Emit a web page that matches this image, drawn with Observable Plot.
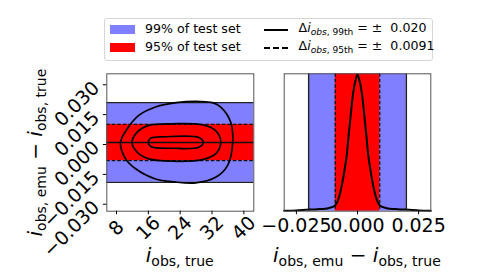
<!DOCTYPE html>
<html>
<head>
<meta charset="utf-8">
<script src="https://cdn.jsdelivr.net/npm/d3@7"></script>
<script src="https://cdn.jsdelivr.net/npm/@observablehq/plot@0.6"></script>
<style>
  html, body { margin: 0; padding: 0; background: #fff; }
  #root { position: relative; width: 488px; height: 275px; overflow: hidden; font-family: "DejaVu Sans", sans-serif; color: #000; }
  .panel { position: absolute; top: 0; }
  .lab { position: absolute; font-size: 20px; white-space: nowrap; line-height: 1; }
  .lab sub { font-size: 70%; vertical-align: -0.3em; }
  #legend { position: absolute; left: 104px; top: 17.5px; width: 327px; height: 41.5px; border: 1px solid #d6d6d6; border-radius: 3px; background: #fff; font-size: 12.6px; }
  #legend .item { position: absolute; white-space: nowrap; line-height: 1; }
  #legend sub { font-size: 72%; vertical-align: -0.3em; }
  #legend .patch { position: absolute; width: 25px; height: 9.5px; }
</style>
</head>
<body>
<div id="root"></div>
<script>
// ---------- data ----------
const delta99 = 0.020;
const delta95 = 0.0091;
const bandLabels = ["99% of test set", "95% of test set"];
const bandColors = ["#7f7fff", "#ff0000"];
const bandHalfWidths = [delta99, delta95];

const xTicksLeft = [8, 16, 24, 32, 40];
const yTicksLeft = [-0.030, -0.015, 0.000, 0.015, 0.030];
const xTicksRight = [-0.025, 0.000, 0.025];
const xDomainLeft = [5.56, 42.5];
const yDomainLeft = [-0.0345, 0.0345];
const xDomainRight = [-0.030, 0.030];

// contour levels (i_obs,true, delta)
const contourOuterX = [29.1, 32.1, 34.2, 36.7, 37.2, 35.9, 32.9, 27.9, 22.5, 17.8, 12.8, 10.3, 9.0, 10.7, 13.6, 17.8, 23.0];
const contourOuterY = [0.0206, 0.0200, 0.0178, 0.0102, 0.0000, -0.0116, -0.0175, -0.0203, -0.0198, -0.0183, -0.0132, -0.0082, 0.0000, 0.0069, 0.0136, 0.0178, 0.0200];
const contourMidX = [22.0, 29.6, 32.9, 34.2, 32.9, 29.6, 22.0, 16.1, 13.2, 11.9, 13.2, 16.1];
const contourMidY = [0.0094, 0.0089, 0.0060, 0.0000, -0.0057, -0.0086, -0.0094, -0.0082, -0.0049, 0.0000, 0.0052, 0.0086];
const contourInX = [20.3, 28.7, 29.8, 28.7, 22.0, 16.6, 16.0, 16.6];
const contourInY = [0.0029, 0.0025, 0.0000, -0.0024, -0.0029, -0.0020, 0.0000, 0.0022];

// marginal density of the residual (normalised to peak)
const densX = [-0.030, -0.025, -0.0194, -0.0166, -0.0119, -0.00914, -0.00779, -0.00656, -0.00533, -0.00434, -0.0037, -0.0030, -0.0023, -0.00164, -0.00082, 0.0000,
               0.00082, 0.00164, 0.0023, 0.0030, 0.0037, 0.00434, 0.00533, 0.00656, 0.00779, 0.00914, 0.0119, 0.0166, 0.0194, 0.025, 0.030];
const densY = [0.003, 0.006, 0.012, 0.015, 0.022, 0.041, 0.090, 0.175, 0.296, 0.418, 0.539, 0.660, 0.782, 0.878, 0.951, 0.995,
               0.951, 0.878, 0.782, 0.660, 0.539, 0.418, 0.296, 0.175, 0.090, 0.041, 0.022, 0.015, 0.012, 0.006, 0.003];

// ---------- tables ----------
const bands = bandLabels.map((label, i) => ({label, half: bandHalfWidths[i], color: bandColors[i]}));
const toPts = (xs, ys) => xs.map((x, i) => ({x, y: ys[i]}));
const contours = [toPts(contourOuterX, contourOuterY), toPts(contourMidX, contourMidY), toPts(contourInX, contourInY)];
const density = toPts(densX, densY);
const solidEdges = [-delta99, delta99];
const dashedEdges = [-delta95, delta95];
const fmt3 = d3.format(".3f");
const tickFont = 19;

const root = document.getElementById("root");
const fontStyle = {fontFamily: "DejaVu Sans", fontSize: tickFont + "px", color: "#000", background: "transparent", overflow: "visible"};

// ---------- left panel ----------
const left = Plot.plot({
  width: 270, height: 275,
  marginLeft: 106.3, marginRight: 16.7, marginTop: 73.3, marginBottom: 64.3,
  style: fontStyle,
  x: {domain: xDomainLeft},
  y: {domain: yDomainLeft},
  marks: [
    Plot.rect(bands, {x1: () => xDomainLeft[0], x2: () => xDomainLeft[1], y1: d => -d.half, y2: d => d.half, fill: "color"}),
    Plot.ruleY(solidEdges, {stroke: "#222", strokeWidth: 1.4}),
    Plot.ruleY(dashedEdges, {stroke: "#111", strokeWidth: 1.3, strokeDasharray: "3.5,2"}),
    Plot.ruleY([0], {stroke: "#111", strokeWidth: 1.4}),
    ...contours.map(c => Plot.line(c, {x: "x", y: "y", curve: "catmull-rom-closed", stroke: "#000", strokeWidth: 1.7})),
    Plot.frame({stroke: "#555", strokeWidth: 1}),
    Plot.axisX({ticks: xTicksLeft, fontSize: tickFont, tickSize: 3.5, tickPadding: 13.5, tickRotate: -45, textAnchor: "middle", lineAnchor: "middle", label: null, fill: "#000"}),
    Plot.axisY({ticks: yTicksLeft, fontSize: tickFont, tickFormat: fmt3, tickSize: 3.5, tickPadding: 7, tickRotate: -45, textAnchor: "end", lineAnchor: "middle", dy: 2, label: null, fill: "#000"})
  ]
});
left.classList.add("panel");
left.style.left = "0px";
root.appendChild(left);

// ---------- right panel ----------
const right = Plot.plot({
  width: 218, height: 275,
  marginLeft: 13.7, marginRight: 57.7, marginTop: 73.3, marginBottom: 64.3,
  style: fontStyle,
  x: {domain: xDomainRight},
  y: {domain: [0, 1], axis: null},
  marks: [
    Plot.rect(bands, {x1: d => -d.half, x2: d => d.half, y1: () => 0, y2: () => 1, fill: "color"}),
    Plot.ruleX(solidEdges, {stroke: "#222", strokeWidth: 1.4}),
    Plot.ruleX(dashedEdges, {stroke: "#111", strokeWidth: 1.3, strokeDasharray: "3.5,2"}),
    Plot.line(density, {x: "x", y: "y", curve: "catmull-rom", stroke: "#000", strokeWidth: 2}),
    Plot.frame({stroke: "#555", strokeWidth: 1}),
    Plot.axisX({ticks: xTicksRight, fontSize: tickFont, tickFormat: fmt3, tickSize: 3.5, tickPadding: 3.5, label: null, fill: "#000"})
  ]
});
right.classList.add("panel");
right.style.left = "270px";
root.appendChild(right);

// ---------- axis labels ----------
function addLabel(html, cx, cy, rotate) {
  const el = document.createElement("div");
  el.className = "lab";
  el.innerHTML = html;
  root.appendChild(el);
  const w = el.offsetWidth, h = el.offsetHeight;
  el.style.left = (cx - w / 2) + "px";
  el.style.top = (cy - h / 2) + "px";
  if (rotate) el.style.transform = `rotate(${rotate}deg)`;
}
addLabel('<i>i</i><sub>obs, true</sub>', 179.8, 256, 0);
addLabel('<i>i</i><sub>obs, emu</sub> − <i>i</i><sub>obs, true</sub>', 357, 256, 0);
addLabel('<i>i</i><sub>obs, emu</sub> − <i>i</i><sub>obs, true</sub>', 37, 152, -90);

// ---------- legend ----------
const legend = document.createElement("div");
legend.id = "legend";
bands.forEach((b, i) => {
  const p = document.createElement("div");
  p.className = "patch";
  p.style.background = b.color;
  p.style.left = "4.5px";
  p.style.top = (6.3 + i * 18) + "px";
  legend.appendChild(p);
  const t = document.createElement("div");
  t.className = "item";
  t.textContent = b.label;
  t.style.left = "40px";
  t.style.top = (4.3 + i * 18) + "px";
  legend.appendChild(t);
});
const lineLabels = [
  `Δ<i>i</i><sub><i>obs</i>, 99th</sub> = ±&nbsp; ${delta99.toFixed(3)}`,
  `Δ<i>i</i><sub><i>obs</i>, 95th</sub> = ±&nbsp; ${delta95.toFixed(4)}`
];
const lineDashes = ["none", "6,3"];
lineLabels.forEach((html, i) => {
  const ns = "http://www.w3.org/2000/svg";
  const s = document.createElementNS(ns, "svg");
  s.setAttribute("width", "26");
  s.setAttribute("height", "4");
  s.style.position = "absolute";
  s.style.left = "158.5px";
  s.style.top = (9.3 + i * 18) + "px";
  const ln = document.createElementNS(ns, "line");
  ln.setAttribute("x1", "0"); ln.setAttribute("x2", "24");
  ln.setAttribute("y1", "2"); ln.setAttribute("y2", "2");
  ln.setAttribute("stroke", "#000");
  ln.setAttribute("stroke-width", "2");
  if (lineDashes[i] !== "none") ln.setAttribute("stroke-dasharray", lineDashes[i]);
  s.appendChild(ln);
  legend.appendChild(s);
  const t = document.createElement("div");
  t.className = "item";
  t.innerHTML = html;
  t.style.left = "193.5px";
  t.style.top = (3.3 + i * 18) + "px";
  legend.appendChild(t);
});
root.appendChild(legend);
</script>
</body>
</html>
